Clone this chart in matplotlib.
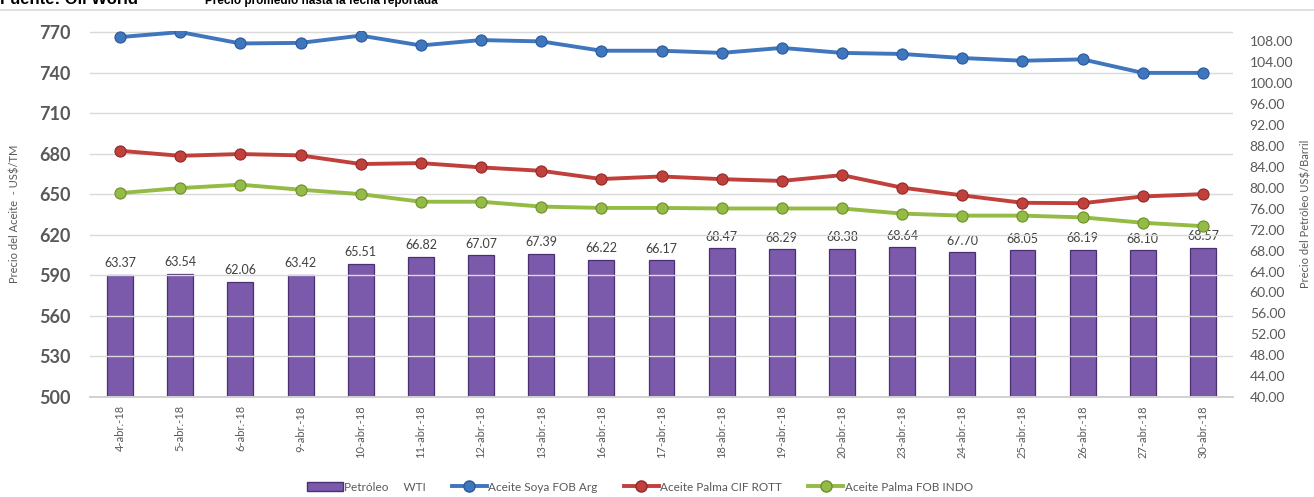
import numpy as np
import matplotlib.pyplot as plt
from matplotlib.patches import Patch
from matplotlib.lines import Line2D

fechas = ['4-abr.-18', '5-abr.-18', '6-abr.-18', '9-abr.-18', '10-abr.-18', '11-abr.-18',
          '12-abr.-18', '13-abr.-18', '16-abr.-18', '17-abr.-18', '18-abr.-18', '19-abr.-18',
          '20-abr.-18', '23-abr.-18', '24-abr.-18', '25-abr.-18', '26-abr.-18', '27-abr.-18',
          '30-abr.-18']

petroleo_wti = [63.37, 63.54, 62.06, 63.42, 65.51, 66.82, 67.07, 67.39, 66.22, 66.17,
                68.47, 68.29, 68.38, 68.64, 67.70, 68.05, 68.19, 68.10, 68.57]

soya_fob_arg = [766.5, 770.2, 761.8, 762.2, 767.6, 760.3, 764.3, 763.3, 756.4, 756.4,
                754.8, 758.5, 754.8, 754.0, 751.0, 749.0, 750.0, 740.0, 740.0]

palma_cif_rott = [682.3, 678.6, 679.9, 678.9, 672.5, 673.2, 670.0, 667.5, 661.4, 663.3,
                  661.3, 660.0, 664.3, 655.0, 649.3, 643.8, 643.5, 648.5, 650.2]

palma_fob_indo = [651.0, 654.7, 657.2, 653.5, 650.2, 644.6, 644.6, 641.0, 640.0, 640.0,
                  639.6, 639.6, 639.6, 635.8, 634.3, 634.3, 633.0, 629.0, 626.5]

left_ticks = [500, 530, 560, 590, 620, 650, 680, 710, 740, 770]
right_ticks = list(range(40, 109, 4))

gris = '#595959'
azul = '#3f76bd'
rojo = '#c0403c'
verde = '#93bb45'
morado = '#7b5aab'

plt.rcParams['font.family'] = ['Lato', 'DejaVu Sans']

fig = plt.figure(figsize=(13.14, 4.97), dpi=100)
ax = fig.add_axes([0.0685, 0.2012, 0.8699, 0.7364])
ax2 = ax.twinx()

x = np.arange(len(fechas))

# barras del petroleo en el eje derecho
ax2.bar(x, petroleo_wti, width=0.43, color=morado, edgecolor='#4a2f73', linewidth=0.9, zorder=2)
for xi, v in zip(x, petroleo_wti):
    ax2.annotate(f'{v:.2f}', (xi, v), xytext=(0, 4), textcoords='offset points',
                 ha='center', va='bottom', fontsize=9, color='#404040', zorder=5)

ax2.set_ylim(40, 110)
ax2.set_yticks(right_ticks)
ax2.set_yticklabels([f'{t:.2f}' for t in right_ticks], fontsize=10, color=gris)
ax2.tick_params(axis='y', length=0, pad=12)
ax2.set_ylabel('Precio del Petróleo US$/Barril', fontsize=8, color=gris)
ax2.yaxis.set_label_coords(1.059, 0.5)

# lineas de aceites en el eje izquierdo, dibujadas encima de las barras
ax.set_zorder(ax2.get_zorder() + 1)
ax.patch.set_visible(False)

series = [(soya_fob_arg, azul, '#2a5a9a'),
          (palma_cif_rott, rojo, '#922a27'),
          (palma_fob_indo, verde, '#6d8e2c')]
for vals, c, ec in series:
    ax.plot(x, vals, color=c, linewidth=2.8, marker='o', markersize=8,
            markerfacecolor=c, markeredgecolor=ec, markeredgewidth=0.8, zorder=3)

ax.set_ylim(500, 771)
ax.set_yticks(left_ticks)
ax.set_yticklabels([str(t) for t in left_ticks], fontsize=13, fontweight='bold', color=gris)
ax.tick_params(axis='y', length=0, pad=14)
ax.set_ylabel('Precio del Aceite  - US$/TM', fontsize=8, color=gris)
ax.yaxis.set_label_coords(-0.061, 0.5)

ax.set_xlim(-0.5, len(fechas) - 0.5)
ax.set_xticks(x)
ax.set_xticklabels(fechas, rotation=90, fontsize=8, color=gris)
ax.tick_params(axis='x', length=0, pad=6)

ax.grid(axis='y', color='#d9d9d9', linewidth=1)
ax.set_axisbelow(True)
for a in (ax, ax2):
    for s in ['top', 'right', 'left']:
        a.spines[s].set_visible(False)
    a.spines['bottom'].set_color('#d0d0d0')
    a.spines['bottom'].set_linewidth(1.2)

# encabezado recortado, como en el original
fig.text(0.0, 1 - 4 / 497, 'Fuente: Oil World', fontsize=12, fontweight='bold',
         family='Liberation Sans', va='baseline', ha='left')
fig.text(205 / 1314, 1 - 4 / 497, 'Precio promedio hasta la fecha reportada', fontsize=8.5,
         fontweight='bold', family='Liberation Sans', va='baseline', ha='left')
fig.add_artist(Line2D([0, 1], [1 - 10 / 497, 1 - 10 / 497], color='#d9d9d9', linewidth=1.2,
                      transform=fig.transFigure))

handles = [Patch(facecolor=morado, edgecolor='#4a2f73', label='Petróleo     WTI'),
           Line2D([], [], color=azul, linewidth=2.8, marker='o', markersize=8,
                  markeredgecolor='#2a5a9a', label='Aceite Soya FOB Arg'),
           Line2D([], [], color=rojo, linewidth=2.8, marker='o', markersize=8,
                  markeredgecolor='#922a27', label='Aceite Palma CIF ROTT'),
           Line2D([], [], color=verde, linewidth=2.8, marker='o', markersize=8,
                  markeredgecolor='#6d8e2c', label='Aceite Palma FOB INDO')]
fig.legend(handles=handles, loc='center', bbox_to_anchor=(0.487, 0.02), ncol=4,
           frameon=False, fontsize=8.5, handlelength=3, handletextpad=0.1,
           columnspacing=2.2, labelcolor=gris)

fig.savefig('out.png', dpi=100)
